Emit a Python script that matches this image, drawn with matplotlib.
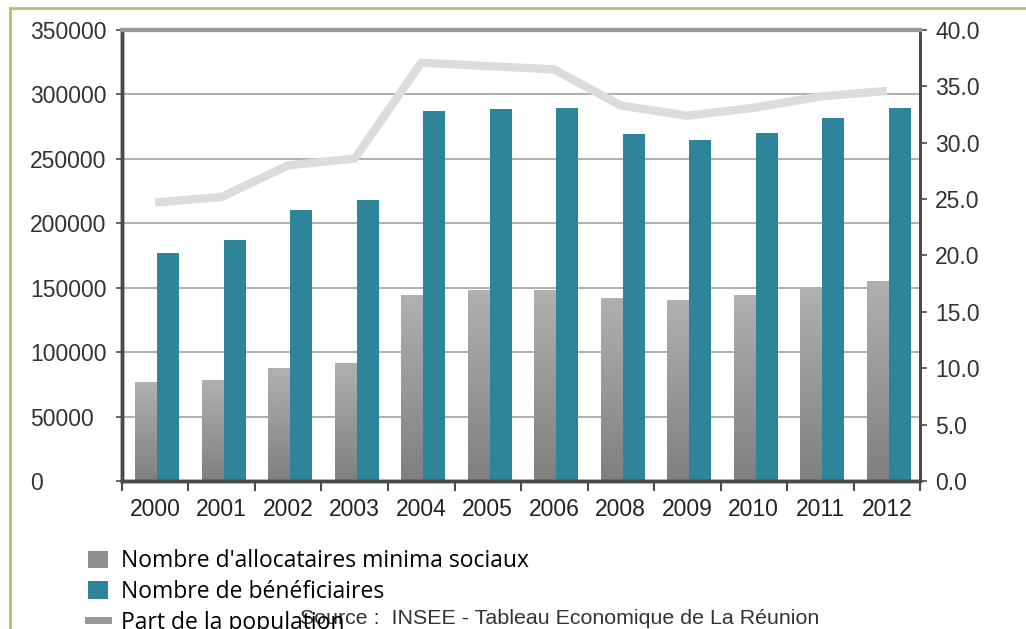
import numpy as np
import matplotlib
matplotlib.use('Agg')
import matplotlib.pyplot as plt
from matplotlib.lines import Line2D
from matplotlib.patches import Rectangle

years = ['2000', '2001', '2002', '2003', '2004', '2005', '2006',
         '2008', '2009', '2010', '2011', '2012']
allocataires = [77000, 78400, 87700, 91600, 144400, 148300, 148300,
                142100, 140500, 144400, 150600, 155300]
beneficiaires = [177000, 187100, 210400, 218200, 287300, 288800, 289600,
                 269400, 264800, 270200, 281800, 289600]
part_pop = [24.7, 25.2, 28.0, 28.6, 37.1, 36.8, 36.5,
            33.3, 32.4, 33.1, 34.1, 34.6]

GRAY = '#8e8e8e'
TEAL = '#2e8499'
LINE = '#dcdcdc'
DARK = '#4a4a4a'
GRID = '#a8a8a8'

plt.rcParams['font.family'] = ['Liberation Sans', 'DejaVu Sans']

fig = plt.figure(figsize=(10.26, 6.29), dpi=100)
fig.patch.set_facecolor('white')
ax = fig.add_axes([0.1189, 0.2353, 0.7778, 0.7170])
ax2 = ax.twinx()

x = np.arange(len(years))
w = 0.33
bars_a = ax.bar(x - w / 2 + 0.03, allocataires, w, color=GRAY, zorder=2)
bars_b = ax.bar(x + w / 2 + 0.03, beneficiaires, w, color=TEAL, zorder=2)

# vertical gradient on the grey bars (darker at the bottom)
grad = np.linspace(0.50, 0.69, 100).reshape(-1, 1)
for b in bars_a:
    x0, h = b.get_x(), b.get_height()
    im = ax.imshow(grad, extent=[x0, x0 + b.get_width(), 0, h], aspect='auto',
                   cmap='gray', vmin=0, vmax=1, origin='lower', zorder=2.1)
    im.set_clip_path(b)

ax.set_xlim(-0.5, len(years) - 0.5)
ax.set_ylim(0, 350000)
ax.set_yticks(np.arange(0, 350001, 50000))
ax.yaxis.grid(True, color=GRID, linewidth=1.3, zorder=0)
ax.set_axisbelow(True)
ax.set_xticks(x)
ax.set_xticklabels(years, fontsize=16.5, color='#222222')
ax.set_xticks(np.arange(-0.5, len(years)), minor=True)
ax.tick_params(axis='x', which='major', length=0, pad=12)
ax.tick_params(axis='x', which='minor', length=7, width=1.5, color=DARK)
ax.tick_params(axis='y', length=4, width=1.2, color=DARK, pad=62,
               labelsize=16.5, labelcolor='#333333')
for lab in ax.get_yticklabels():
    lab.set_horizontalalignment('left')

ax2.plot(x, part_pop, color=LINE, linewidth=6, solid_capstyle='butt', zorder=3)
ax2.set_ylim(0, 40)
ax2.set_yticks(np.arange(0, 40.1, 5))
ax2.set_yticklabels([f'{v:.1f}' for v in np.arange(0, 40.1, 5)])
ax2.tick_params(axis='y', length=5, width=1.2, color=DARK, pad=6,
                labelsize=16.5, labelcolor='#333333')

for a in (ax, ax2):
    a.spines['left'].set_color(DARK)
    a.spines['left'].set_linewidth(2.5)
    a.spines['right'].set_color(DARK)
    a.spines['right'].set_linewidth(2)
    a.spines['bottom'].set_color(DARK)
    a.spines['bottom'].set_linewidth(2.5)
    a.spines['top'].set_color('#9a9a9a')
    a.spines['top'].set_linewidth(3)

# legend
handles = [
    Rectangle((0, 0), 1, 1, facecolor=GRAY),
    Rectangle((0, 0), 1, 1, facecolor=TEAL),
    Line2D([0], [0], color='#999999', linewidth=5),
]
labels = ["Nombre d'allocataires minima sociaux", 'Nombre de bénéficiaires',
          'Part de la population']
fig.legend(handles, labels, loc='upper left', bbox_to_anchor=(0.0858, 0.1267),
           frameon=False, handlelength=0.85, handleheight=0.8,
           handletextpad=0.6, labelspacing=0.29, borderpad=0, borderaxespad=0,
           prop={'family': 'Open Sans', 'size': 16.5})

fig.text(0.292, 0.008, 'Source :  INSEE - Tableau Economique de La Réunion',
         fontsize=15.4, color='#333333', ha='left', va='baseline')

# green frame
fig.add_artist(Line2D([0.0095, 0.0095], [0, 0.987], transform=fig.transFigure,
                      color='#a9c96a', linewidth=2))
fig.add_artist(Line2D([0.0095, 1], [0.987, 0.987], transform=fig.transFigure,
                      color='#a9c96a', linewidth=2))

plt.savefig('out.png', dpi=100, facecolor='white')
